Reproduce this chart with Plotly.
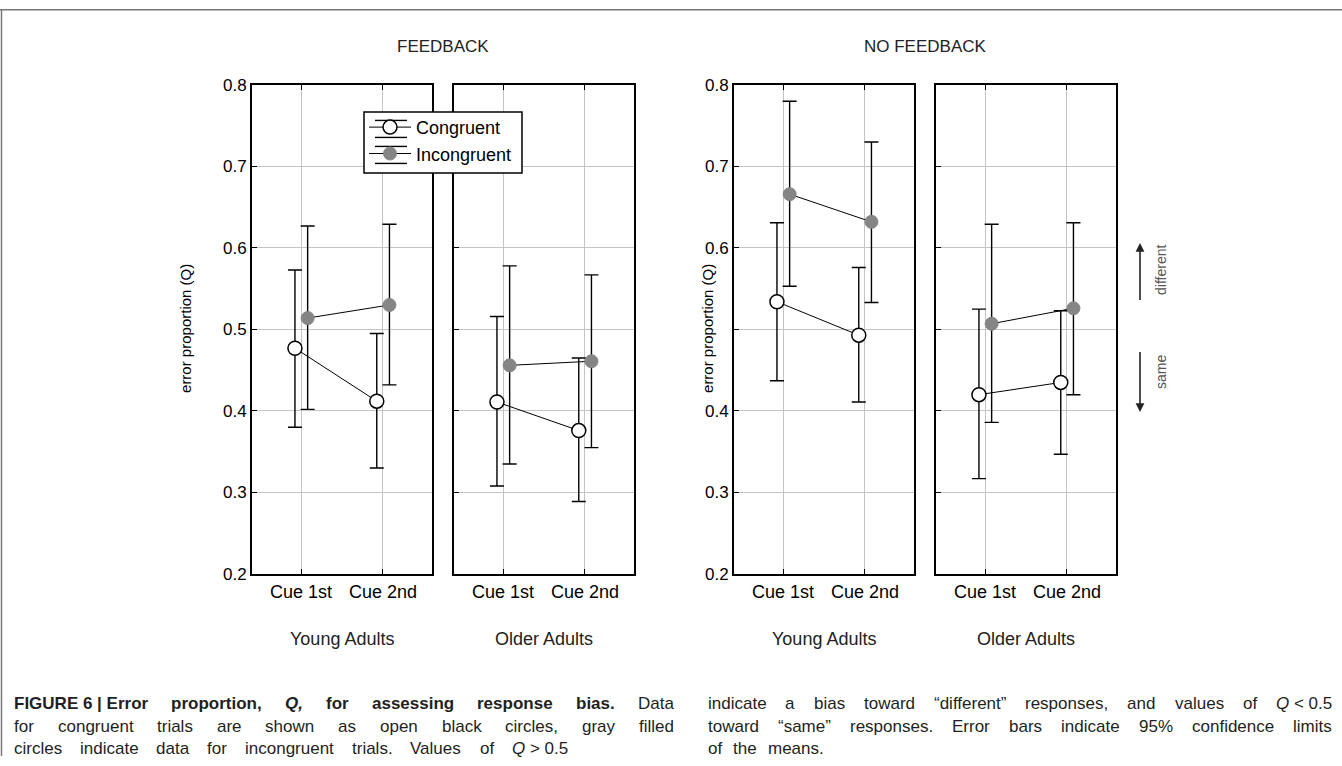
import re
import plotly.graph_objects as go

W, H = 1342, 766
FONT = "Liberation Sans, Arial, sans-serif"

categories = ["Cue 1st", "Cue 2nd"]
group_labels = ["Young Adults", "Older Adults", "Young Adults", "Older Adults"]
condition_labels = ["FEEDBACK", "NO FEEDBACK"]

# means and 95% confidence limits per panel: [Cue 1st, Cue 2nd]
cong_mean = [[0.477, 0.412], [0.411, 0.376], [0.534, 0.493], [0.420, 0.435]]
cong_lo   = [[0.380, 0.330], [0.308, 0.289], [0.437, 0.411], [0.317, 0.347]]
cong_hi   = [[0.573, 0.495], [0.516, 0.465], [0.631, 0.576], [0.525, 0.523]]
inc_mean  = [[0.514, 0.530], [0.456, 0.461], [0.666, 0.632], [0.507, 0.526]]
inc_lo    = [[0.402, 0.432], [0.335, 0.355], [0.553, 0.533], [0.386, 0.420]]
inc_hi    = [[0.627, 0.629], [0.578, 0.567], [0.780, 0.730], [0.629, 0.631]]

y_ticks = [0.2, 0.3, 0.4, 0.5, 0.6, 0.7, 0.8]
right_ticks = [0.286, 0.373, 0.459, 0.545, 0.632, 0.718]

caption_left = [
    "<b>FIGURE\u00a06\u00a0|\u00a0Error proportion, <i>Q,</i> for assessing response bias.</b> Data",
    "for congruent trials are shown as open black circles, gray filled",
    "circles indicate data for incongruent trials. Values of <i>Q</i>\u00a0>\u00a00.5",
]
caption_right = [
    "indicate a bias toward \u201cdifferent\u201d responses, and values of <i>Q</i>\u00a0<\u00a00.5",
    "toward \u201csame\u201d responses. Error bars indicate 95% confidence limits",
    "of the means.",
]

# vertical placement helper (pixel row in target -> paper fraction)
VS, VO = 0.975, 9.1
def Y(py):
    return 1 - ((py - VO) / VS) / H

# layout geometry (pixels)
px_left = [252, 454, 734, 936]
px_w = 180
py_top, py_bot = 85, 574

fig = go.Figure()
x_pos = [1, 2]
off_c, off_i = -0.075, 0.08

for p in range(4):
    xa = "x" if p == 0 else f"x{p+1}"
    ya = "y" if p == 0 else f"y{p+1}"
    xc = [x + off_c for x in x_pos]
    xi = [x + off_i for x in x_pos]
    fig.add_trace(go.Scatter(
        x=xc, y=cong_mean[p], xaxis=xa, yaxis=ya, mode="lines+markers",
        name="Congruent", showlegend=(p == 0), legendrank=1,
        line=dict(color="black", width=1),
        marker=dict(symbol="circle", size=14, color="white",
                    line=dict(color="black", width=1.5)),
        error_y=dict(type="data", symmetric=False,
                     array=[h - m for h, m in zip(cong_hi[p], cong_mean[p])],
                     arrayminus=[m - l for l, m in zip(cong_lo[p], cong_mean[p])],
                     color="black", thickness=1.4, width=7),
    ))
    fig.add_trace(go.Scatter(
        x=xi, y=inc_mean[p], xaxis=xa, yaxis=ya, mode="lines+markers",
        name="Incongruent", showlegend=(p == 0), legendrank=2,
        line=dict(color="black", width=1),
        marker=dict(symbol="circle", size=13, color="#858585",
                    line=dict(color="#858585", width=1)),
        error_y=dict(type="data", symmetric=False,
                     array=[h - m for h, m in zip(inc_hi[p], inc_mean[p])],
                     arrayminus=[m - l for l, m in zip(inc_lo[p], inc_mean[p])],
                     color="black", thickness=1.4, width=7),
    ))

layout = dict(
    width=W, height=H, margin=dict(l=0, r=0, t=0, b=0),
    paper_bgcolor="white", plot_bgcolor="white",
    font=dict(family=FONT, color="black", size=17),
    legend=dict(x=364 / W, y=Y(109), xanchor="left", yanchor="top",
                bgcolor="rgba(0,0,0,0)", borderwidth=0,
                font=dict(size=18, family=FONT), tracegroupgap=0,
                itemwidth=42),
)
ydom = [Y(py_bot), Y(py_top)]
for p in range(4):
    xs = "xaxis" if p == 0 else f"xaxis{p+1}"
    ys = "yaxis" if p == 0 else f"yaxis{p+1}"
    ya = "y" if p == 0 else f"y{p+1}"
    xa = "x" if p == 0 else f"x{p+1}"
    layout[xs] = dict(
        domain=[px_left[p] / W, (px_left[p] + px_w) / W], anchor=ya,
        range=[0.4, 2.6], tickvals=x_pos, ticktext=categories,
        showgrid=True, gridcolor="#c4c4c4", gridwidth=1,
        showline=True, linecolor="black", linewidth=2, mirror="ticks",
        ticks="inside", ticklen=5, tickwidth=1.2, tickcolor="black",
        tickfont=dict(size=18), zeroline=False,
    )
    labels = [f"{v:.1f}" for v in y_ticks]
    if p == 2:
        labels = ["" if abs(v - 0.5) < 1e-9 else t for v, t in zip(y_ticks, labels)]
    layout[ys] = dict(
        domain=ydom, anchor=xa, range=[0.2, 0.8], tickvals=y_ticks,
        ticktext=labels, showticklabels=(p in (0, 2)),
        showgrid=True, gridcolor="#c4c4c4", gridwidth=1,
        showline=True, linecolor="black", linewidth=2, mirror=True,
        ticks="inside", ticklen=5, tickwidth=1.2, tickcolor="black",
        tickfont=dict(size=17), zeroline=False,
    )
    rs = f"yaxis{p+5}"
    layout[rs] = dict(
        overlaying=ya, anchor=xa, side="right", range=[0.2, 0.8],
        tickvals=right_ticks, showticklabels=False, showgrid=False,
        showline=False, ticks="inside", ticklen=5, tickwidth=1.2,
        tickcolor="black", zeroline=False,
    )
fig.update_layout(**layout)

ann = []
def A(x, y, text, **kw):
    d = dict(x=x / W, y=Y(y), xref="paper", yref="paper", text=text,
             xanchor="center", yanchor="middle",
             showarrow=False, font=dict(size=17, family=FONT, color="#222"))
    d.update(kw)
    ann.append(d)

A(443, 47, condition_labels[0])
A(925, 47, condition_labels[1])
for p, name in enumerate(group_labels):
    A(px_left[p] + px_w / 2, 639, name, font=dict(size=18, family=FONT, color="#222"))
A(186, 329, "error proportion (Q)", textangle=-90, font=dict(size=15, family=FONT, color="black"))
A(708, 329, "error proportion (Q)", textangle=-90, font=dict(size=15, family=FONT, color="black"))
A(1161, 270, "different", textangle=-90, font=dict(size=14, family=FONT, color="#555"))
A(1161, 372, "same", textangle=-90, font=dict(size=14, family=FONT, color="#555"))

# direction arrows
ann.append(dict(x=1140 / W, y=Y(243), xref="paper", yref="paper", text="",
                showarrow=True, ax=0, ay=57 / VS, arrowhead=2, arrowsize=1.1,
                arrowwidth=1.6, arrowcolor="#222"))
ann.append(dict(x=1140 / W, y=Y(412), xref="paper", yref="paper", text="",
                showarrow=True, ax=0, ay=-60 / VS, arrowhead=2, arrowsize=1.1,
                arrowwidth=1.6, arrowcolor="#222"))

# ---- justified caption: place every word individually ----
REG = {' ': 278, 'a': 556, 'b': 556, 'c': 500, 'd': 556, 'e': 556, 'f': 278, 'g': 556,
       'h': 556, 'i': 222, 'j': 222, 'k': 500, 'l': 222, 'm': 833, 'n': 556, 'o': 556,
       'p': 556, 'q': 556, 'r': 333, 's': 500, 't': 278, 'u': 556, 'v': 500, 'w': 722,
       'x': 500, 'y': 500, 'z': 500, 'A': 667, 'B': 667, 'C': 722, 'D': 722, 'E': 667,
       'F': 611, 'G': 778, 'H': 722, 'I': 278, 'O': 778, 'Q': 778, 'R': 722, 'U': 722,
       'V': 667, '.': 278, ',': 278, '|': 260, '%': 889, '\u201c': 333, '\u201d': 333,
       '>': 584, '<': 584, '\u00a0': 278, '0': 556, '5': 556, '6': 556, '9': 556}
BOLD = {'a': 556, 'b': 611, 'c': 556, 'd': 611, 'e': 556, 'f': 333, 'g': 611, 'h': 611,
        'i': 278, 'n': 611, 'o': 611, 'p': 611, 'r': 389, 's': 556, 't': 333, 'u': 611,
        'm': 889, 'E': 667, 'F': 611, 'G': 778, 'I': 278, 'Q': 778, 'R': 722, 'U': 722,
        '|': 280, '.': 278, ',': 278, '6': 556, ' ': 278, '\u00a0': 278}
CAP_SIZE = 17

def word_width(tok, bold):
    plain = re.sub(r"<[^>]+>", "", tok)
    table = BOLD if bold else REG
    return sum(table.get(ch, REG.get(ch, 556)) for ch in plain) * CAP_SIZE / 1000.0

def tokens_with_bold(line):
    out, bold = [], False
    for tok in line.split(" "):
        b_here = bold or "<b>" in tok
        if "<b>" in tok:
            bold = True
        if "</b>" in tok:
            bold = False
        out.append((tok, b_here))
    return out

def fix_tags(tok, bold):
    t = tok.replace("<b>", "").replace("</b>", "")
    if t.count("</i>") > t.count("<i>"):
        t = "<i>" + t
    if t.count("<i>") > t.count("</i>"):
        t = t + "</i>"
    return f"<b>{t}</b>" if bold else t

def justify(lines, x0, ends, rows):
    for line, x1, row in zip(lines, ends, rows):
        toks = tokens_with_bold(line)
        widths = [word_width(t, b) for t, b in toks]
        gap = (x1 - x0 - sum(widths)) / max(1, len(toks) - 1)
        x = x0
        for (t, b), w in zip(toks, widths):
            ann.append(dict(x=x / W, y=Y(row), xref="paper", yref="paper",
                            text=fix_tags(t, b), showarrow=False, xanchor="left",
                            yanchor="middle",
                            font=dict(size=CAP_SIZE, family=FONT, color="#231f20")))
            x += w + gap

caption_rows = [703, 726, 748]
justify(caption_left, 12, [672, 672, 566], caption_rows)
justify(caption_right, 706, [1330, 1330, 822], caption_rows)

fig.update_layout(annotations=ann)

def hline(x0, x1, yy, color="black", width=1.4):
    return dict(type="line", xref="paper", yref="paper", x0=x0 / W, x1=x1 / W,
                y0=Y(yy), y1=Y(yy), line=dict(color=color, width=width), layer="above")

shapes = [
    dict(type="line", xref="paper", yref="paper", x0=0, x1=1, y0=1 - 0.75 / H, y1=1 - 0.75 / H,
         line=dict(color="#777", width=1.5)),
    dict(type="line", xref="paper", yref="paper", x0=1.5 / W, x1=1.5 / W, y0=0, y1=1,
         line=dict(color="#777", width=1.5)),
    # legend box (white, framed) behind the legend entries
    dict(type="rect", xref="paper", yref="paper", x0=364 / W, x1=522 / W,
         y0=Y(173), y1=Y(112), fillcolor="white", line=dict(color="black", width=1.5),
         layer="above"),
    # whisker caps drawn in the legend keys
    hline(375, 407, 120.5), hline(375, 407, 137.5),
    hline(375, 407, 146.5), hline(375, 407, 163.5),
]
fig.update_layout(shapes=shapes)

post = ("document.body.style.margin='0px';document.body.style.overflow='hidden';"
        "document.documentElement.style.overflow='hidden';"
        "var d=document.getElementById('{plot_id}');"
        "d.style.position='absolute';d.style.top='0px';d.style.left='0px';")
fig.write_html("out.html", config={"displayModeBar": False}, post_script=post)
